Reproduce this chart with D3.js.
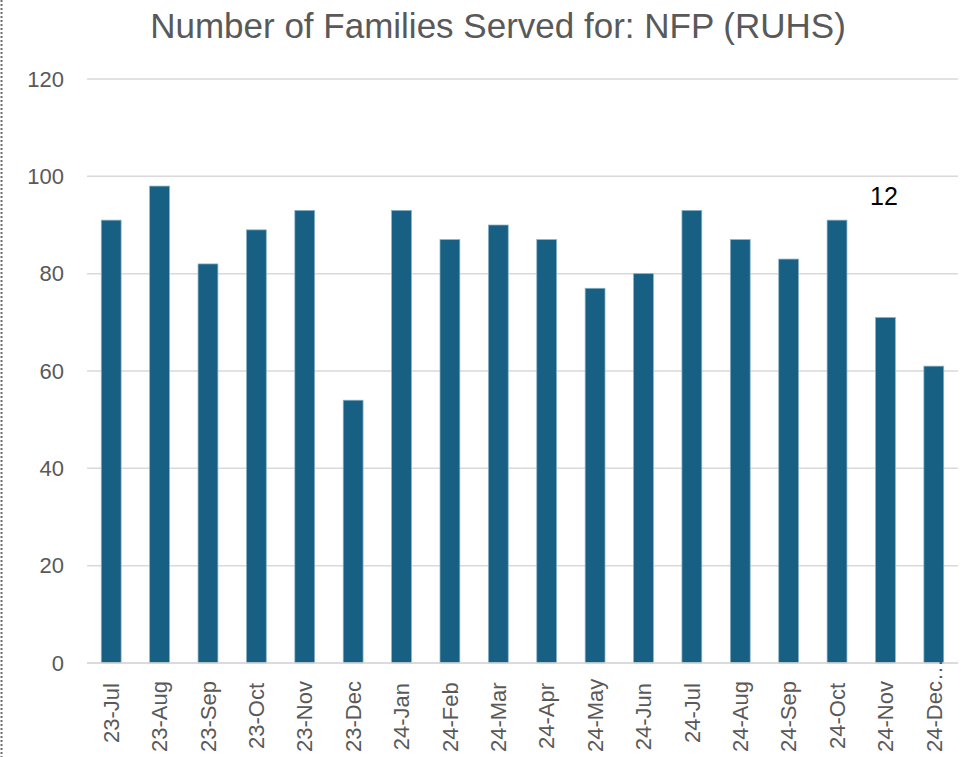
<!DOCTYPE html>
<html lang="en">
<head>
    <meta charset="UTF-8">
    <title>Number of Families Served for: NFP (RUHS)</title>
    <script src="https://d3js.org/d3.v7.min.js"></script>
    <style>
        * { margin: 0; padding: 0; }
        body { background: #fff; }
    </style>
</head>
<body>
    <script>
        var width = 966;
        var height = 757;

        var months = ['23-Jul', '23-Aug', '23-Sep', '23-Oct', '23-Nov', '23-Dec', '24-Jan', '24-Feb', '24-Mar',
            '24-Apr', '24-May', '24-Jun', '24-Jul', '24-Aug', '24-Sep', '24-Oct', '24-Nov', '24-Dec\u2026'];
        var families = [91, 98, 82, 89, 93, 54, 93, 87, 90, 87, 77, 80, 93, 87, 83, 91, 71, 61];
        var yTicks = [0, 20, 40, 60, 80, 100, 120];
        var note = '12';

        var plotLeft = 87, plotRight = 958, plotTop = 79, plotBottom = 663;
        var font = '"Liberation Sans", Arial, sans-serif';

        var svg = d3.select('body')
            .append('svg')
            .attr('width', width)
            .attr('height', height)
            .style('font-family', font);

        // dotted frame edge on the left
        svg.append('line')
            .attr('x1', 1.5).attr('x2', 1.5)
            .attr('y1', 0).attr('y2', height)
            .attr('stroke', '#6f6f6f')
            .attr('stroke-width', 2)
            .attr('stroke-dasharray', '2,2');

        var x = d3.scaleBand()
            .domain(months)
            .range([plotLeft, plotRight])
            .paddingInner(0.59)
            .paddingOuter(0.295);

        var y = d3.scaleLinear()
            .domain([0, 120])
            .range([plotBottom, plotTop]);

        // gridlines
        svg.append('g')
            .selectAll('line')
            .data(yTicks)
            .enter()
            .append('line')
            .attr('x1', plotLeft)
            .attr('x2', plotRight)
            .attr('y1', function (d) { return y(d); })
            .attr('y2', function (d) { return y(d); })
            .attr('stroke', '#d9d9d9')
            .attr('stroke-width', 1.5);

        // y axis labels
        var yAxis = d3.axisLeft(y)
            .tickValues(yTicks)
            .tickSize(0)
            .tickPadding(23);
        var gy = svg.append('g')
            .attr('transform', 'translate(' + plotLeft + ',0)')
            .call(yAxis);
        gy.select('.domain').remove();
        gy.selectAll('text')
            .attr('fill', '#595959')
            .style('font-size', '22px')
            .style('font-family', font);

        // bars
        svg.selectAll('.bar')
            .data(families)
            .enter()
            .append('rect')
            .attr('class', 'bar')
            .attr('x', function (d, i) { return x(months[i]); })
            .attr('y', function (d) { return y(d); })
            .attr('width', x.bandwidth())
            .attr('height', function (d) { return y(0) - y(d); })
            .attr('fill', '#175f83')
            .attr('stroke', '#8cb2c6')
            .attr('stroke-width', 0.75);

        // baseline
        svg.append('line')
            .attr('x1', plotLeft).attr('x2', plotRight)
            .attr('y1', y(0)).attr('y2', y(0))
            .attr('stroke', '#d9d9d9')
            .attr('stroke-width', 1.5);

        // x axis labels, rotated
        var xAxis = d3.axisBottom(x).tickSize(0).tickPadding(0);
        var gx = svg.append('g')
            .attr('transform', 'translate(0,' + plotBottom + ')')
            .call(xAxis);
        gx.select('.domain').remove();
        gx.selectAll('text')
            .attr('fill', '#595959')
            .style('font-size', '22px')
            .style('font-family', font)
            .attr('text-anchor', 'end')
            .attr('x', 0)
            .attr('y', 0)
            .attr('dy', '0.35em')
            .attr('transform', function () {
                // long labels get pushed up so they still fit
                var len = this.getComputedTextLength();
                var off = Math.min(20, height - 5 - plotBottom - len);
                return 'translate(0,' + off + ') rotate(-90)';
            });

        // title
        svg.append('text')
            .attr('x', 498)
            .attr('y', 38)
            .attr('text-anchor', 'middle')
            .attr('fill', '#595959')
            .style('font-size', '35px')
            .text('Number of Families Served for: NFP (RUHS)');

        // stray label
        svg.append('text')
            .attr('x', 884)
            .attr('y', 205)
            .attr('text-anchor', 'middle')
            .attr('fill', '#000')
            .style('font-size', '25px')
            .text(note);
    </script>
</body>
</html>
